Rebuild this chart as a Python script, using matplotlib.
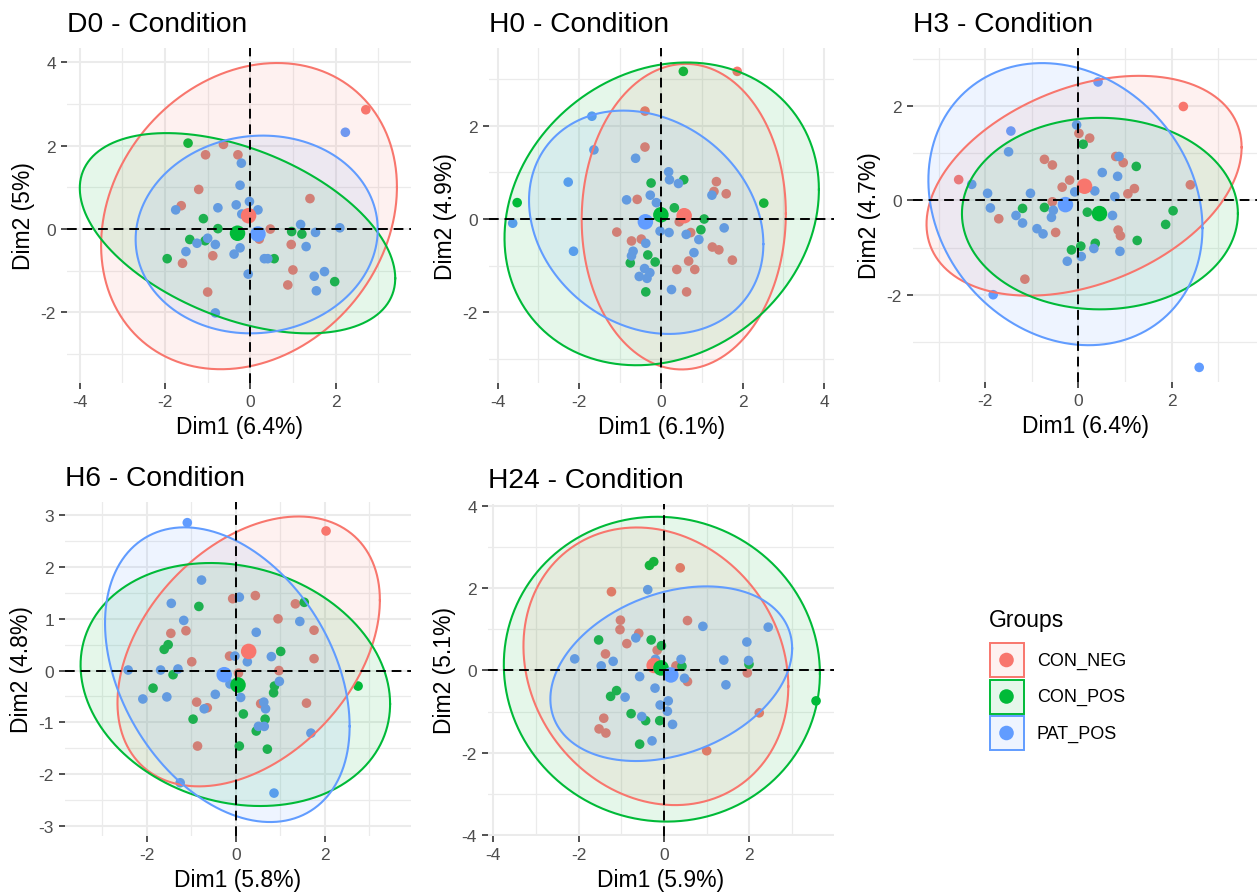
import numpy as np
import matplotlib
matplotlib.use("Agg")
import matplotlib.pyplot as plt
from matplotlib.patches import Rectangle

plt.rcParams['font.family'] = ['Liberation Sans', 'DejaVu Sans']

W, H = 1258, 895

GROUPS = ["CON_NEG", "CON_POS", "PAT_POS"]
COLORS = ["#F8766D", "#00BA38", "#619CFF"]

# ---------------- D0 ----------------
D0_CON_NEG = [(2.71, 2.86), (-0.63, 2.03), (-1.05, 1.78), (-0.29, 1.78), (-1.21, 0.95), (-1.62, 0.56),
              (1.40, 0.73), (0.47, 0.00), (0.21, -0.24), (0.96, -0.37), (-0.88, -0.64), (-1.59, -0.82),
              (1.00, -0.98), (0.88, -1.34), (-1.00, -1.51)]
D0_CON_POS = [(-1.46, 2.06), (-1.10, 0.25), (-0.76, 0.01), (-1.42, -0.25), (-1.06, -0.28), (-1.95, -0.71),
              (0.97, -0.06), (1.21, -0.12), (0.56, -0.71), (1.98, -1.26)]
D0_PAT_POS = [(2.23, 2.32), (-0.21, 1.58), (-0.24, 1.05), (-0.33, 0.58), (-0.02, 0.66), (0.18, 0.46),
              (-0.76, 0.51), (-1.75, 0.46), (-0.20, 0.36), (1.18, 0.11), (1.53, -0.08), (2.10, 0.03),
              (-1.00, -0.22), (-1.25, -0.34), (-0.82, -0.37), (-1.51, -0.54), (-0.24, -0.45), (-0.38, -0.60),
              (0.33, -0.71), (0.41, -0.71), (1.31, -0.42), (-0.05, -1.08), (1.74, -1.02), (1.50, -1.13),
              (1.55, -1.48), (-0.82, -2.01)]
D0_MEANS = [(-0.04, 0.32), (-0.30, -0.10), (0.18, -0.12)]
# ellipse: centre x, centre y, half-width, half-height, correlation
D0_ELLIPSES = [(-0.03, 0.31, 3.47, 3.67, 0.19), (-0.30, -0.10, 3.70, 2.40, -0.45), (0.15, -0.13, 2.84, 2.37, 0.05)]

# ---------------- H0 ----------------
H0_CON_NEG = [(1.87, 3.16), (-0.39, 2.31), (-0.39, 1.54), (1.36, 0.80), (1.30, 0.59), (1.60, 0.54),
              (-0.58, 0.42), (0.45, -0.06), (-1.08, -0.28), (-0.72, -0.47), (-0.48, -0.43), (0.73, -0.29),
              (1.26, -0.60), (1.42, -0.66), (0.68, -0.90), (1.75, -0.88), (0.39, -1.08), (0.83, -1.08),
              (0.63, -1.56)]
H0_CON_POS = [(0.55, 3.16), (-3.52, 0.35), (-0.24, 0.77), (0.56, 0.84), (0.33, 0.24), (1.06, 0.00),
              (0.98, -0.23), (2.52, 0.34), (-0.32, -0.77), (-0.14, -0.92), (-0.75, -0.94), (-0.37, -1.56)]
H0_PAT_POS = [(-1.69, 2.20), (-1.64, 1.48), (-0.62, 1.30), (-2.27, 0.79), (-3.63, -0.09), (-2.14, -0.69),
              (0.19, 1.01), (0.21, 0.84), (0.43, 0.76), (-0.26, 0.51), (-0.84, 0.41), (-0.11, 0.35),
              (1.25, 0.51), (-0.02, -0.26), (0.20, -0.29), (0.62, -0.33), (0.93, -0.44), (1.55, -0.19),
              (-0.37, -0.52), (0.81, -0.72), (-0.68, -0.69), (-0.72, -0.79), (-0.40, -1.06), (-0.27, -1.15),
              (-0.53, -1.23), (-0.34, -1.27), (0.26, -1.51)]
H0_MEANS = [(0.57, 0.07), (0.00, 0.09), (-0.38, -0.06)]
H0_ELLIPSES = [(0.56, 0.05, 2.50, 3.27, 0.02), (0.02, 0.11, 3.85, 3.24, 0.16), (-0.36, -0.07, 2.87, 2.39, -0.195)]

# ---------------- H3 ----------------
H3_CON_NEG = [(2.25, 1.99), (-2.57, 0.44), (0.01, 1.42), (0.24, 1.32), (-0.73, 0.87), (-0.56, 0.75),
              (0.80, 0.93), (0.96, 0.80), (-0.19, 0.43), (-0.35, 0.28), (1.20, 0.25), (1.06, 0.14),
              (2.40, 0.33), (-0.56, -0.03), (-1.71, -0.39), (-0.49, -0.68), (0.85, -0.63), (0.90, -0.75),
              (-1.15, -1.67)]
H3_CON_POS = [(0.10, 1.19), (1.24, 0.72), (-1.20, -0.17), (-0.73, -0.15), (0.19, -0.25), (2.03, -0.22),
              (1.87, -0.51), (1.26, -0.85), (0.36, -0.91), (0.05, -0.97), (-0.15, -1.05)]
H3_PAT_POS = [(0.42, 2.51), (-0.04, 1.60), (-1.45, 1.47), (-1.50, 1.03), (0.87, 0.93), (0.51, 0.59),
              (0.84, 0.51), (-2.29, 0.34), (-1.95, 0.15), (-1.03, 0.15), (-0.08, 0.18), (0.35, 0.20),
              (0.78, 0.08), (-1.89, -0.16), (-1.34, -0.32), (-1.20, -0.48), (-0.54, -0.21), (-0.58, -0.36),
              (0.73, -0.32), (-0.89, -0.60), (-0.76, -0.71), (0.33, -1.02), (0.89, -1.08), (0.06, -1.19),
              (-0.24, -1.29), (-1.83, -2.00), (2.59, -3.54)]
H3_MEANS = [(0.13, 0.30), (0.45, -0.28), (-0.28, -0.09)]
H3_ELLIPSES = [(0.12, 0.31, 3.38, 2.33, 0.35), (0.46, -0.28, 2.96, 2.03, 0.0), (-0.28, -0.08, 2.94, 2.99, -0.17)]

# ---------------- H6 ----------------
H6_CON_NEG = [(2.03, 2.70), (-0.07, 1.39), (0.44, 1.45), (1.34, 1.29), (0.95, 1.00), (1.76, 0.78),
              (-1.46, 0.72), (-1.12, 0.77), (1.76, 0.23), (-0.99, 0.17), (-0.14, 0.28), (0.97, 0.00),
              (0.06, -0.05), (-0.88, -0.61), (-0.64, -0.72), (0.56, -0.64), (1.59, -0.63), (-0.86, -1.46)]
H6_CON_POS = [(1.54, 1.32), (-0.83, 1.24), (-1.52, 0.50), (-1.61, 0.41), (1.01, 0.37), (-1.41, -0.08),
              (-1.86, -0.34), (0.87, -0.30), (0.85, -0.43), (2.75, -0.30), (0.17, -0.84), (0.66, -0.94),
              (-0.96, -0.94), (0.46, -1.17), (0.08, -1.46), (0.71, -1.52)]
H6_PAT_POS = [(-1.09, 2.86), (-0.77, 1.75), (-1.45, 1.30), (0.08, 1.42), (-1.17, 0.97), (1.44, 0.95),
              (0.46, 0.74), (-0.02, 0.28), (0.26, 0.17), (0.80, 0.27), (-2.42, 0.01), (-1.69, 0.01),
              (-1.30, 0.03), (0.98, -0.21), (-0.13, -0.26), (-0.46, -0.46), (0.11, -0.52), (-2.09, -0.55),
              (-1.55, -0.51), (-0.71, -0.74), (0.63, -0.61), (0.67, -0.74), (0.51, -1.08), (0.64, -1.08),
              (1.69, -1.21), (-1.25, -2.17), (0.86, -2.37)]
H6_MEANS = [(0.29, 0.37), (0.05, -0.28), (-0.26, -0.08)]
H6_ELLIPSES = [(0.29, 0.37, 2.95, 2.61, 0.38), (-0.01, -0.27, 3.48, 2.35, -0.16), (-0.19, -0.08, 2.75, 2.85, -0.35)]

# ---------------- H24 ----------------
H24_CON_NEG = [(0.38, 2.49), (-1.23, 1.91), (-1.02, 1.22), (-1.03, 0.99), (-0.59, 0.90), (-0.87, 0.65),
               (0.55, 1.21), (-0.16, 0.49), (-1.37, 0.40), (0.28, 0.11), (0.55, -0.27), (1.95, -0.06),
               (-1.41, -1.16), (-1.52, -1.42), (-1.36, -1.52), (2.23, -1.03), (1.00, -1.95)]
H24_CON_POS = [(-0.24, 2.64), (-0.34, 2.55), (-1.53, 0.74), (-0.30, 0.74), (-0.06, 0.60), (0.42, 0.10),
               (1.99, 0.15), (-1.11, -0.49), (-1.25, -0.63), (-0.77, -1.05), (-0.43, -1.22), (-0.10, -1.22),
               (-0.57, -1.79), (3.56, -0.74)]
H24_PAT_POS = [(-0.38, 1.96), (0.91, 1.07), (2.44, 1.05), (-0.66, 0.79), (1.94, 0.69), (-2.09, 0.28),
               (-1.19, 0.22), (-1.47, 0.11), (-0.20, 0.27), (0.40, 0.27), (1.40, 0.25), (1.98, 0.24),
               (-0.57, -0.15), (0.48, -0.19), (1.45, -0.35), (-0.21, -0.43), (-0.91, -0.65), (0.10, -0.74),
               (-0.09, -0.84), (0.08, -0.99), (-0.52, -1.12), (0.20, -1.31), (-0.28, -1.71)]
H24_MEANS = [(-0.23, 0.12), (-0.07, 0.06), (0.16, -0.11)]
H24_ELLIPSES = [(-0.19, 0.10, 3.10, 3.37, -0.145), (-0.05, 0.03, 3.70, 3.70, -0.03), (0.17, -0.08, 2.83, 2.12, 0.29)]

TITLES = ["D0 - Condition", "H0 - Condition", "H3 - Condition", "H6 - Condition", "H24 - Condition"]
XLABELS = ["Dim1 (6.4%)", "Dim1 (6.1%)", "Dim1 (6.4%)", "Dim1 (5.8%)", "Dim1 (5.9%)"]
YLABELS = ["Dim2 (5%)", "Dim2 (4.9%)", "Dim2 (4.7%)", "Dim2 (4.8%)", "Dim2 (5.1%)"]

PANEL_POINTS = [
    [D0_CON_NEG, D0_CON_POS, D0_PAT_POS],
    [H0_CON_NEG, H0_CON_POS, H0_PAT_POS],
    [H3_CON_NEG, H3_CON_POS, H3_PAT_POS],
    [H6_CON_NEG, H6_CON_POS, H6_PAT_POS],
    [H24_CON_NEG, H24_CON_POS, H24_PAT_POS],
]
PANEL_MEANS = [D0_MEANS, H0_MEANS, H3_MEANS, H6_MEANS, H24_MEANS]
PANEL_ELLIPSES = [D0_ELLIPSES, H0_ELLIPSES, H3_ELLIPSES, H6_ELLIPSES, H24_ELLIPSES]

# ---------------- layout (pixels) ----------------
RECTS = [(67, 49, 411, 384), (489, 49, 834, 384), (913, 49, 1257, 383),
         (65, 503, 411, 837), (488, 505, 834, 837)]
XLIMS = [(-4.30, 3.77), (-4.21, 4.24), (-3.55, 3.83), (-3.84, 3.94), (-4.12, 3.98)]
YLIMS = [(-3.69, 4.34), (-3.51, 3.66), (-3.85, 3.23), (-3.20, 3.26), (-4.02, 4.04)]
YSTEPS = [2, 2, 2, 1, 2]

GRID = "#EBEBEB"

fig = plt.figure(figsize=(W / 100, H / 100), dpi=100)


def px_rect(x0, y0, x1, y1):
    return [x0 / W, 1 - y1 / H, (x1 - x0) / W, (y1 - y0) / H]


def ellipse_curve(cx, cy, sx, sy, rho, n=300):
    t = np.linspace(0, 2 * np.pi, n)
    x = cx + sx * np.cos(t)
    y = cy + sy * (rho * np.cos(t) + np.sqrt(1 - rho ** 2) * np.sin(t))
    return x, y


def ticks_for(lo, hi, step):
    start = np.ceil(lo / step) * step
    return np.arange(start, hi + 1e-9, step)


for i in range(5):
    ax = fig.add_axes(px_rect(*RECTS[i]))
    ax.set_xlim(*XLIMS[i])
    ax.set_ylim(*YLIMS[i])
    for s in ax.spines.values():
        s.set_visible(False)
    xt = ticks_for(XLIMS[i][0], XLIMS[i][1], 2)
    yt = ticks_for(YLIMS[i][0], YLIMS[i][1], YSTEPS[i])
    xm = ticks_for(XLIMS[i][0], XLIMS[i][1], 1)
    ym = ticks_for(YLIMS[i][0], YLIMS[i][1], YSTEPS[i] / 2)
    for v in xm:
        major = np.any(np.isclose(v, xt))
        ax.axvline(v, color=GRID, lw=1.5 if major else 0.9, zorder=0)
    for v in ym:
        major = np.any(np.isclose(v, yt))
        ax.axhline(v, color=GRID, lw=1.5 if major else 0.9, zorder=0)
    ax.set_xticks(xt)
    ax.set_yticks(yt)
    ax.set_xticklabels([f"{int(round(v))}" for v in xt])
    ax.set_yticklabels([f"{int(round(v))}" for v in yt])
    ax.tick_params(axis='both', length=4.5, width=1.2, color="#333333", labelcolor="#4D4D4D",
                   labelsize=12.5, pad=3.5)

    for g in range(3):
        pts = np.array(PANEL_POINTS[i][g])
        ax.scatter(pts[:, 0], pts[:, 1], s=48, color=COLORS[g], edgecolors='none', zorder=2)
    for g in range(3):
        ex, ey = ellipse_curve(*PANEL_ELLIPSES[i][g])
        ax.fill(ex, ey, color=COLORS[g], alpha=0.1, lw=0, zorder=3)
        ax.plot(ex, ey, color=COLORS[g], lw=1.5, zorder=3.1)
    for g in range(3):
        mx, my = PANEL_MEANS[i][g]
        ax.scatter([mx], [my], s=125, color=COLORS[g], edgecolors='none', zorder=4)
    ax.axhline(0, color="black", lw=1.4, ls=(0, (5, 3)), zorder=6)
    ax.axvline(0, color="black", lw=1.4, ls=(0, (5, 3)), zorder=6)

    ax.set_title(TITLES[i], loc='left', fontsize=20.3, pad=12, color="black")
    ax.set_xlabel(XLABELS[i], fontsize=16.5, labelpad=4, color="black")
    ax.set_ylabel(YLABELS[i], fontsize=16.5, labelpad=4, color="black")

# ---------------- legend ----------------
lax = fig.add_axes([0, 0, 1, 1])
lax.set_xlim(0, W)
lax.set_ylim(H, 0)
lax.axis('off')
lax.text(989, 620, "Groups", fontsize=16.5, va='center', ha='left')
for g in range(3):
    y0 = 643.5 + g * 36.5
    lax.add_patch(Rectangle((989.5, y0 + 0.5), 34, 34, facecolor=COLORS[g], alpha=0.1, lw=0))
    lax.add_patch(Rectangle((989.5, y0 + 0.5), 34, 34, facecolor='none', edgecolor=COLORS[g], lw=1.4))
    lax.scatter([1006.5], [y0 + 17.5], s=110, color=COLORS[g], edgecolors='none')
    lax.text(1037, y0 + 17.5, GROUPS[g], fontsize=13, va='center', ha='left')

fig.savefig("out.png", dpi=100)
